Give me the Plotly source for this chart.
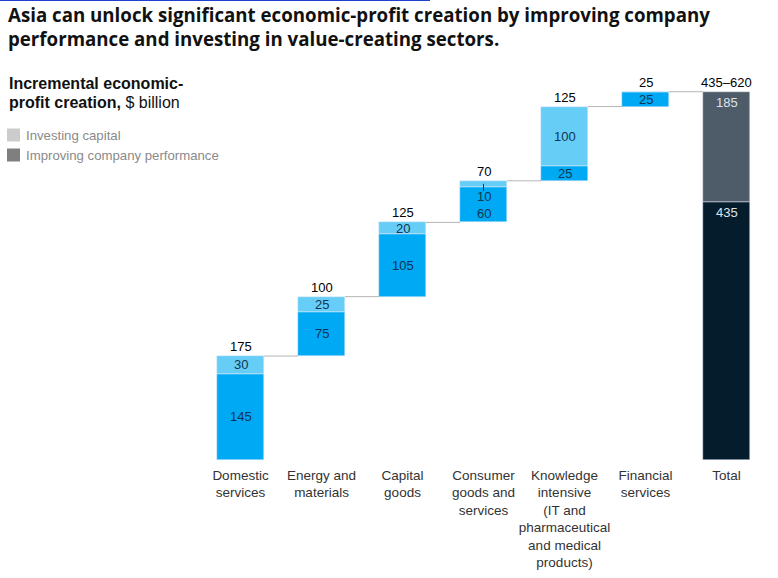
import plotly.graph_objects as go

# ---------------- data ----------------
categories = ["Domestic services", "Energy and materials", "Capital goods",
              "Consumer goods and services",
              "Knowledge intensive (IT and pharmaceutical and medical products)",
              "Financial services", "Total"]
tick_labels = ["Domestic<br>services", "Energy and<br>materials", "Capital<br>goods",
               "Consumer<br>goods and<br>services",
               "Knowledge<br>intensive<br>(IT and<br>pharmaceutical<br>and medical<br>products)",
               "Financial<br>services", "Total"]
performance = [145, 75, 105, 60, 25, 25]      # improving company performance
investing = [30, 25, 20, 10, 100, 0]          # investing capital
step_labels = ["175", "100", "125", "70", "125", "25"]
total_performance = 435
total_investing = 185
total_label = "435–620"

# ---------------- styling ----------------
W, H = 778, 578
ML, MR, MT, MB = 200, 11, 70, 118
C_PERF = "#00a9f4"
C_INV = "#66cdf7"
C_TOT_PERF = "#051c2c"
C_TOT_INV = "#4e5c6a"
C_CONN = "#b5b5b5"
FONT = "Liberation Sans, Arial, sans-serif"
BAR_W = 0.58

def px(x):
    return (x - ML) / (W - ML - MR)

def py(y):
    return (H - MB - y) / (H - MT - MB)

n = len(performance)
xs = list(range(n))
steps = [p + i for p, i in zip(performance, investing)]
bases = []
acc = 0
for s in steps:
    bases.append(acc)
    acc += s
grand = acc
x_tot = n

fig = go.Figure()
fig.add_trace(go.Bar(x=xs, y=performance, base=bases, marker_color=C_PERF,
                     width=BAR_W, showlegend=False, hoverinfo="skip"))
fig.add_trace(go.Bar(x=xs, y=investing,
                     base=[b + p for b, p in zip(bases, performance)],
                     marker_color=C_INV, width=BAR_W, showlegend=False, hoverinfo="skip"))
fig.add_trace(go.Bar(x=[x_tot], y=[total_performance], base=[0], marker_color=C_TOT_PERF,
                     width=BAR_W, showlegend=False, hoverinfo="skip"))
fig.add_trace(go.Bar(x=[x_tot], y=[total_investing], base=[total_performance],
                     marker_color=C_TOT_INV, width=BAR_W, showlegend=False, hoverinfo="skip"))

shapes = []
annotations = []

# connectors
for i in range(n):
    top = bases[i] + steps[i]
    shapes.append(dict(type="line", xref="x", yref="y",
                       x0=i + BAR_W / 2, x1=i + 1 - BAR_W / 2, y0=top, y1=top,
                       line=dict(color=C_CONN, width=1)))

IN_FONT = dict(family=FONT, size=13, color="#0f3553")
for i in range(n):
    b, p, v = bases[i], performance[i], investing[i]
    top = b + p + v
    annotations.append(dict(x=i, y=top, xref="x", yref="y", text=step_labels[i],
                            showarrow=False, yanchor="bottom", yshift=0,
                            font=dict(family=FONT, size=13, color="#000")))
    if v >= 15 or v == 0:
        annotations.append(dict(x=i, y=b + p / 2, xref="x", yref="y", text=str(p),
                                showarrow=False, font=IN_FONT))
        if v > 0:
            annotations.append(dict(x=i, y=b + p + v / 2, xref="x", yref="y", text=str(v),
                                    showarrow=False, font=IN_FONT))
    else:
        annotations.append(dict(x=i, y=b + p * 0.25, xref="x", yref="y", text=str(p),
                                showarrow=False, font=IN_FONT))
        annotations.append(dict(x=i, y=b + p * 0.73, xref="x", yref="y", text=str(v),
                                showarrow=False, font=IN_FONT))
        shapes.append(dict(type="line", xref="x", yref="y", x0=i, x1=i,
                           y0=b + p + v / 2, y1=b + p * 0.88,
                           line=dict(color="#0f3553", width=1)))

# total labels
annotations.append(dict(x=x_tot, y=grand, xref="x", yref="y", text=total_label,
                        showarrow=False, yanchor="bottom",
                        font=dict(family=FONT, size=13, color="#000")))
annotations.append(dict(x=x_tot, y=total_performance + total_investing, xref="x", yref="y",
                        text=str(total_investing), showarrow=False, yanchor="top", yshift=-1,
                        font=dict(family=FONT, size=13, color="#dde3e8")))
annotations.append(dict(x=x_tot, y=total_performance, xref="x", yref="y",
                        text=str(total_performance), showarrow=False, yanchor="top", yshift=-1,
                        font=dict(family=FONT, size=13, color="#dde3e8")))

# title (two lines placed separately for tight spacing)
title_lines = ["Asia can unlock significant economic-profit creation by improving company",
               "performance and investing in value-creating sectors."]
for k, line in enumerate(title_lines):
    annotations.append(dict(xref="paper", yref="paper", x=px(6), y=py(14 + 24 * k),
                            xanchor="left", yanchor="middle", align="left", showarrow=False,
                            text="<b>" + line + "</b>",
                            font=dict(family="Open Sans, " + FONT, size=18.7, color="#111")))
# subtitle
sub_lines = ["<b>Incremental economic-</b>", "<b>profit creation,</b> $ billion"]
for k, line in enumerate(sub_lines):
    annotations.append(dict(xref="paper", yref="paper", x=px(7), y=py(83 + 19 * k),
                            xanchor="left", yanchor="middle", align="left", showarrow=False,
                            text=line, font=dict(family=FONT, size=16, color="#111")))
# legend
for j, (lab, col) in enumerate([("Investing capital", "#cccccc"),
                                ("Improving company performance", "#7f7f7f")]):
    yc = 135 + j * 20
    shapes.append(dict(type="rect", xref="paper", yref="paper",
                       x0=px(7), x1=px(20), y0=py(yc - 6.5), y1=py(yc + 6.5),
                       fillcolor=col, line=dict(width=0)))
    annotations.append(dict(xref="paper", yref="paper", x=px(24), y=py(yc), xanchor="left",
                            yanchor="middle", showarrow=False, text=lab,
                            font=dict(family=FONT, size=13.2, color="#8a8a8a")))
# top accent line
shapes.append(dict(type="line", xref="paper", yref="paper", x0=px(0), x1=px(430),
                   y0=py(0.5), y1=py(0.5), line=dict(color="#1f3fd0", width=1)))

fig.update_layout(
    width=W, height=H, margin=dict(l=ML, r=MR, t=MT, b=MB, autoexpand=False),
    paper_bgcolor="white", plot_bgcolor="white",
    barmode="overlay", bargap=0,
    shapes=shapes, annotations=annotations,
    xaxis=dict(range=[-0.5, n + 0.5], tickmode="array", tickvals=list(range(n + 1)),
               ticktext=tick_labels, showgrid=False, zeroline=False, showline=False,
               ticks="", ticklabelstandoff=5,
               tickfont=dict(family=FONT, size=13.5, color="#333")),
    yaxis=dict(range=[0, 656.6], visible=False, fixedrange=True),
    font=dict(family=FONT),
)

fig.write_html("out.html", config={"displayModeBar": False},
               post_script="document.body.style.margin='0';")
